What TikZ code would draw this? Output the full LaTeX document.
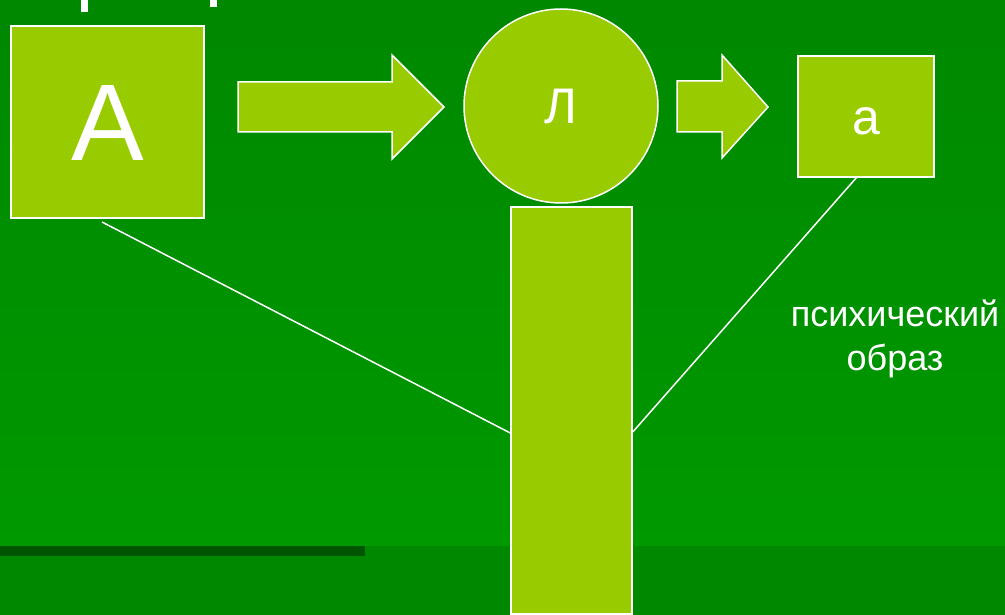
\documentclass[tikz,border=0pt]{standalone}
\usepackage{fontspec}
\setmainfont{Liberation Sans}
\definecolor{bgdark}{RGB}{0,136,0}
\definecolor{bglight}{RGB}{0,153,0}
\definecolor{barshade}{RGB}{0,85,0}
\definecolor{lime}{RGB}{153,204,0}

\begin{document}
\begin{tikzpicture}[x=1pt,y=-1pt,
  box/.style={draw=white,fill=lime,line width=1.5pt,inner sep=0pt,text=white,text depth=0pt},
  blockarrow/.style={draw=white,fill=lime,line width=1.5pt,line join=miter},
  link/.style={white,line width=1.5pt}]
\useasboundingbox (0,0) rectangle (1005,615);
\shade[top color=bgdark,bottom color=bglight] (0,0) rectangle (1005,546);
\fill[bgdark] (0,546) rectangle (1005,615);
\fill[barshade] (0,546) rectangle (365,556);
\fill[white] (81,0) rectangle (88,12);
\fill[white] (210,0) rectangle (217,7);

\node[box,minimum width=193pt,minimum height=192pt,
  font=\fontsize{109}{109}\selectfont,text height=78pt] (bigA) at (107.5,122) {A};
\node[box,circle,minimum size=194pt,
  font=\fontsize{50}{50}\selectfont,text height=36pt] (lens) at (561,106) {Л};
\node[box,minimum width=136pt,minimum height=121pt,
  font=\fontsize{50}{50}\selectfont,text height=36pt] (smallA) at (866,116.5) {а};
\node[box,minimum width=121pt,minimum height=407pt] (stem) at (571.5,410.5) {};

\draw[blockarrow] (238,82) -- (392,82) -- (392,55) -- (444,107)
  -- (392,159) -- (392,132) -- (238,132) -- cycle;
\draw[blockarrow] (677,81) -- (722,81) -- (722,55) -- (768,107)
  -- (722,158) -- (722,132) -- (677,132) -- cycle;

\coordinate (bigAfoot) at (102,222);
\coordinate (smallAfoot) at (857,177);
\coordinate (stemleft) at (stem.west |- 0,433);
\coordinate (stemright) at (stem.east |- 0,432);
\draw[link] (bigAfoot) -- (stemleft);
\draw[link] (smallAfoot) -- (stemright);

\node[text=white,font=\fontsize{36}{44}\selectfont,align=center,anchor=base]
  (image) at (895,370) {психический\\образ};
\end{tikzpicture}
\end{document}
